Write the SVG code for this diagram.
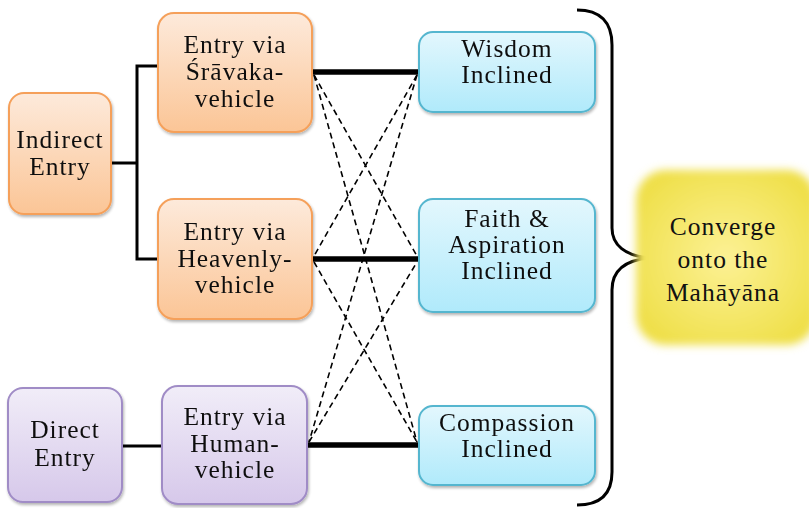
<svg xmlns="http://www.w3.org/2000/svg" width="809" height="508" viewBox="0 0 809 508">
  <defs>
    <linearGradient id="gOrange" x1="0" y1="0" x2="0" y2="1">
      <stop offset="0" stop-color="#fdeadb"/>
      <stop offset="1" stop-color="#fbc596"/>
    </linearGradient>
    <linearGradient id="gPurple" x1="0" y1="0" x2="0" y2="1">
      <stop offset="0" stop-color="#f1edf8"/>
      <stop offset="1" stop-color="#d6c8ea"/>
    </linearGradient>
    <linearGradient id="gBlue" x1="0" y1="0" x2="0" y2="1">
      <stop offset="0" stop-color="#e3f7fd"/>
      <stop offset="1" stop-color="#b0eafb"/>
    </linearGradient>
    <radialGradient id="gYellow" cx="0.5" cy="0.5" r="0.6">
      <stop offset="0" stop-color="#fcf195"/>
      <stop offset="1" stop-color="#efdf48"/>
    </radialGradient>
    <filter id="shadow" x="-10%" y="-10%" width="125%" height="130%">
      <feGaussianBlur in="SourceAlpha" stdDeviation="1.5"/>
      <feOffset dx="1" dy="2" result="b"/>
      <feComponentTransfer><feFuncA type="linear" slope="0.3"/></feComponentTransfer>
      <feMerge><feMergeNode/><feMergeNode in="SourceGraphic"/></feMerge>
    </filter>
    <filter id="soft" x="-20%" y="-20%" width="140%" height="140%">
      <feGaussianBlur stdDeviation="4.5"/>
    </filter>
  </defs>
  <style>
    .orange { fill: url(#gOrange); stroke: #f5a05a; stroke-width: 2; }
    .purple { fill: url(#gPurple); stroke: #a08cc6; stroke-width: 2; }
    .blue { fill: url(#gBlue); stroke: #55b6cf; stroke-width: 2; }
    text { font-family: "Liberation Serif", "Times New Roman", serif; font-size: 25.5px; fill: #111; text-anchor: middle; letter-spacing: 1px; }
    .bracket { fill: none; stroke: #000; stroke-width: 3; }
    .thick { fill: none; stroke: #000; stroke-width: 5.5; }
    .dash { fill: none; stroke: #000; stroke-width: 1.6; stroke-dasharray: 6 4; }
    .brace { fill: none; stroke: #000; stroke-width: 3; }
  </style>

  <rect width="809" height="508" fill="#ffffff"/>

  <!-- connectors -->
  <g id="connectors">
    <polyline class="bracket" points="111,163 137,163"/>
    <polyline class="bracket" points="158,66 137,66 137,259 158,259"/>
    <line class="bracket" x1="122" y1="446" x2="162" y2="446"/>
    <line class="thick" x1="313" y1="72" x2="418" y2="72"/>
    <line class="thick" x1="313" y1="259" x2="418" y2="259"/>
    <line class="thick" x1="308" y1="445" x2="418" y2="445"/>
    <line class="dash" x1="314" y1="75" x2="417" y2="256"/>
    <line class="dash" x1="314" y1="75" x2="417" y2="442"/>
    <line class="dash" x1="417" y1="75" x2="314" y2="256"/>
    <line class="dash" x1="417" y1="75" x2="309" y2="442"/>
    <line class="dash" x1="314" y1="262" x2="417" y2="442"/>
    <line class="dash" x1="309" y1="442" x2="417" y2="262"/>
    <path class="brace" d="M577,10 C600,10 612,22 612,45 L612,228 C612,245 625,256 650,258 C625,260 612,271 612,290 L612,472 C612,494 600,505 577,505"/>
  </g>

  <g id="indirect" filter="url(#shadow)">
    <rect class="orange" x="9" y="93" width="102" height="121" rx="15"/>
    <text x="60" y="148">Indirect</text>
    <text x="60" y="175">Entry</text>
  </g>

  <g id="sravaka" filter="url(#shadow)">
    <rect class="orange" x="158" y="13" width="154" height="119" rx="16"/>
    <text x="235" y="53">Entry via</text>
    <text x="235" y="80">Śrāvaka-</text>
    <text x="235" y="107">vehicle</text>
  </g>

  <g id="heavenly" filter="url(#shadow)">
    <rect class="orange" x="158" y="199" width="154" height="120" rx="16"/>
    <text x="235" y="240">Entry via</text>
    <text x="235" y="267">Heavenly-</text>
    <text x="235" y="293">vehicle</text>
  </g>

  <g id="direct" filter="url(#shadow)">
    <rect class="purple" x="8" y="388" width="114" height="114" rx="15"/>
    <text x="65" y="438">Direct</text>
    <text x="65" y="466">Entry</text>
  </g>

  <g id="human" filter="url(#shadow)">
    <rect class="purple" x="162" y="386" width="145" height="118" rx="16"/>
    <text x="235" y="425">Entry via</text>
    <text x="235" y="452">Human-</text>
    <text x="235" y="478">vehicle</text>
  </g>

  <g id="wisdom" filter="url(#shadow)">
    <rect class="blue" x="419" y="32" width="176" height="80" rx="14"/>
    <text x="507" y="57">Wisdom</text>
    <text x="507" y="83">Inclined</text>
  </g>

  <g id="faith" filter="url(#shadow)">
    <rect class="blue" x="419" y="199" width="176" height="113" rx="14"/>
    <text x="507" y="227">Faith &amp;</text>
    <text x="507" y="253">Aspiration</text>
    <text x="507" y="279">Inclined</text>
  </g>

  <g id="compassion" filter="url(#shadow)">
    <rect class="blue" x="419" y="406" width="176" height="79" rx="14"/>
    <text x="507" y="431">Compassion</text>
    <text x="507" y="457">Inclined</text>
  </g>

  <g id="mahayana">
    <rect x="636" y="170" width="180" height="175" rx="30" fill="url(#gYellow)" filter="url(#soft)"/>
    <text x="723" y="235" font-size="24">Converge</text>
    <text x="723" y="268" font-size="24">onto the</text>
    <text x="723" y="301" font-size="24">Mahāyāna</text>
  </g>
</svg>
